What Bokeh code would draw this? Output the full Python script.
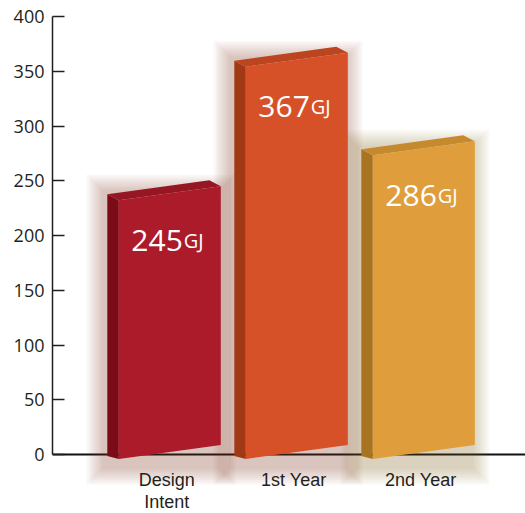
from bokeh.plotting import figure
from bokeh.models import Range1d, FixedTicker, Span
from bokeh.core.properties import value
from bokeh.embed import file_html
from bokeh.resources import INLINE

# ---- data ----
categories = ["Design\nIntent", "1st Year", "2nd Year"]
values = [245, 367, 286]
value_labels = ["245", "367", "286"]
unit_label = "GJ"
y_ticks = [0, 50, 100, 150, 200, 250, 300, 350, 400]

front_colors = ["#AB1B29", "#D65127", "#DF9E3B"]
side_colors = ["#7C0B18", "#A13914", "#A87422"]
top_colors = ["#961724", "#BC4520", "#C68A2E"]
shadow_colors = ["#7a2a25", "#8a3a1c", "#8a6224"]

# ---- geometry (pixel based styling) ----
PX_X = 127.0    # pixels per category step
PX_Y = 1.095    # pixels per GJ
shift = 3.0 / PX_X
hw = 51.0 / PX_X
dx = 11.5 / PX_X
dy = 6.0 / PX_Y
slant = 14.0 / PX_Y
lb = -4.5 / PX_Y

cat_x = list(range(len(categories)))
bar_x = [i + shift for i in cat_x]

front_xs, front_ys, side_xs, side_ys, top_xs, top_ys = [], [], [], [], [], []
for cx, v in zip(bar_x, values):
    xl, xr = cx - hw, cx + hw
    rb = lb + slant
    front_xs.append([xl, xr, xr, xl])
    front_ys.append([lb, rb, v, v - slant])
    side_xs.append([xl - dx, xl, xl, xl - dx])
    side_ys.append([lb + 3.0 / PX_Y, lb, v - slant, v - slant + dy])
    top_xs.append([xl, xr, xr - dx, xl - dx])
    top_ys.append([v - slant, v, v + dy, v - slant + dy])

p = figure(width=525, height=513, output_backend="svg", toolbar_location=None,
           x_range=Range1d(-(166.3 - 52) / PX_X, (525 - 166.3) / PX_X),
           y_range=Range1d(-(513 - 454) / PX_Y, 400 + 6.0 / PX_Y),
           min_border_left=52, min_border_right=0, min_border_top=10,
           min_border_bottom=0)
p.background_fill_color = "white"
p.border_fill_color = "white"
p.outline_line_color = None
p.grid.visible = False
p.xaxis.visible = False

# zero line
p.add_layout(Span(location=0, dimension="width", line_color="#111111",
                  line_width=2, level="underlay"))

# soft shadows
for k in range(8):
    e = (k + 1) * 2.2
    p.quad(left=[cx - hw - dx - (e + 3) / PX_X for cx in bar_x],
           right=[cx + hw + (e - 3) / PX_X for cx in bar_x],
           bottom=[lb - (e + 8) / PX_Y for _ in bar_x],
           top=[v + (e - 6) / PX_Y for v in values],
           fill_color=shadow_colors, fill_alpha=0.04, line_color=None)

# bars
p.patches(xs=side_xs, ys=side_ys, fill_color=side_colors, line_color=None)
p.patches(xs=top_xs, ys=top_ys, fill_color=top_colors, line_color=None)
p.patches(xs=front_xs, ys=front_ys, fill_color=front_colors, line_color=None)

# value labels
p.text(x=bar_x, y=values, text=value_labels, text_align="right",
       text_baseline="alphabetic", x_offset=13, y_offset=54,
       text_font=value("Open Sans"), text_font_size="30px", text_color="white")
p.text(x=bar_x, y=values, text=[unit_label] * len(values), text_align="left",
       text_baseline="alphabetic", x_offset=14, y_offset=54,
       text_font=value("Open Sans"), text_font_size="20px", text_color="white")

# category labels
p.text(x=cat_x, y=[0] * len(cat_x), text=categories, text_align="center",
       text_baseline="top", y_offset=15, text_line_height=1.1,
       text_font=value("Liberation Sans"), text_font_size="18px",
       text_color="#231F20")

# y axis
ya = p.yaxis[0]
ya.ticker = FixedTicker(ticks=y_ticks)
ya.bounds = (0, 400)
ya.major_tick_in = 12
ya.major_tick_out = 0
ya.minor_tick_line_color = None
ya.major_label_standoff = 8
ya.major_label_text_font = "Open Sans"
ya.major_label_text_font_size = "18px"
ya.major_label_text_color = "#231F20"
ya.axis_line_color = "#231F20"
ya.axis_line_width = 1.5
ya.major_tick_line_color = "#231F20"
ya.major_tick_line_width = 1.5

open("out.html", "w").write(file_html(p, INLINE))
